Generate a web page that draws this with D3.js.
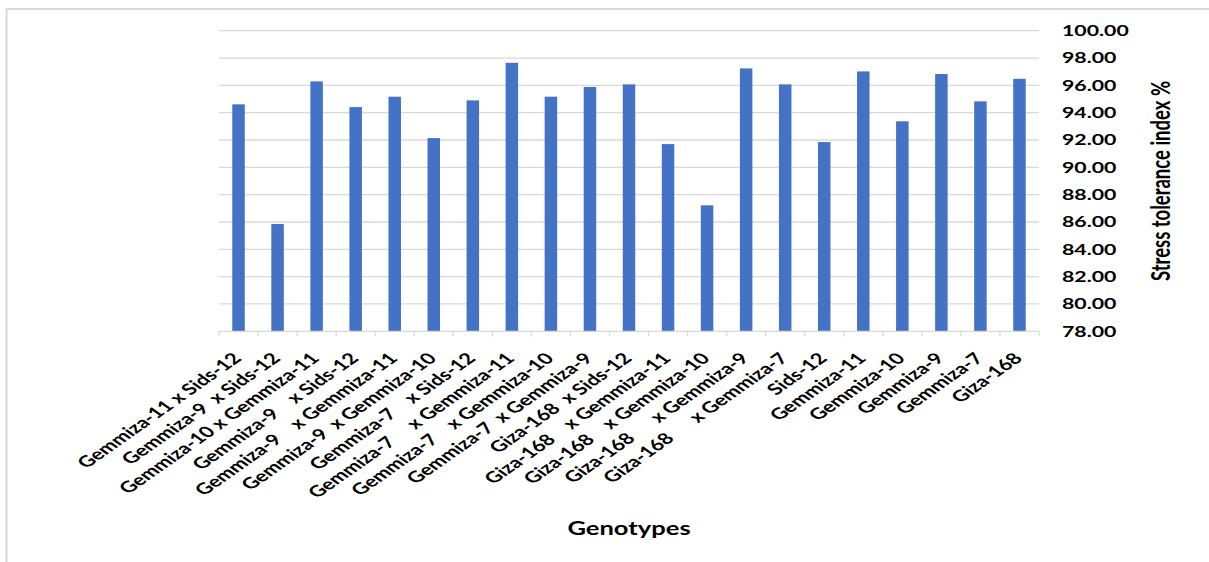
<!DOCTYPE html>
<html>
<head>
<meta charset="utf-8">
<script src="https://cdn.jsdelivr.net/npm/d3@7"></script>
<style>
  html, body { margin: 0; padding: 0; background: #fff; }
  svg { display: block; }
  text { font-family: Lato, "Open Sans", sans-serif; font-weight: 700; fill: #000; white-space: pre; }
</style>
</head>
<body>
<svg id="chart" width="1209" height="562"></svg>
<script>
const categories = [
  "Gemmiza-11 x Sids-12",
  "Gemmiza-9  x Sids-12",
  "Gemmiza-10 x Gemmiza-11",
  "Gemmiza-9    x Sids-12",
  "Gemmiza-9    x Gemmiza-11",
  "Gemmiza-9  x Gemmiza-10",
  "Gemmiza-7    x Sids-12",
  "Gemmiza-7     x Gemmiza-11",
  "Gemmiza-7    x Gemmiza-10",
  "Gemmiza-7  x Gemmiza-9",
  "Giza-168  x Sids-12",
  "Giza-168    x Gemmiza-11",
  "Giza-168    x Gemmiza-10",
  "Giza-168      x Gemmiza-9",
  "Giza-168      x Gemmiza-7",
  "Sids-12",
  "Gemmiza-11",
  "Gemmiza-10",
  "Gemmiza-9",
  "Gemmiza-7",
  "Giza-168"
];
const values = [94.61, 85.85, 96.29, 94.41, 95.17, 92.14, 94.90, 97.65, 95.17, 95.88, 96.07,
                91.70, 87.22, 97.24, 96.07, 91.85, 97.02, 93.37, 96.83, 94.83, 96.48];
const yTicks = [78, 80, 82, 84, 86, 88, 90, 92, 94, 96, 98, 100];
const yTitle = "Stress tolerance index %";
const xTitle = "Genotypes";

(function () {
const svg = d3.select("#chart");
const SX = 1.42; // horizontal stretch of the original picture

// frame
svg.append("line").attr("x1", 6.5).attr("x2", 6.5).attr("y1", 8).attr("y2", 562)
  .attr("stroke", "#d9d9d9").attr("stroke-width", 2);
svg.append("line").attr("x1", 6).attr("x2", 1209).attr("y1", 9).attr("y2", 9)
  .attr("stroke", "#d9d9d9").attr("stroke-width", 2);

const pLeft = 219, pRight = 1039, pTop = 30.7, pBottom = 331.3;

const x = d3.scaleBand().domain(d3.range(categories.length))
  .range([pLeft, pRight]).paddingInner(0.68).paddingOuter(0.34);
const y = d3.scaleLinear().domain([78, 100]).range([pBottom, pTop]);

// gridlines
svg.append("g").selectAll("line").data(yTicks.filter(t => t > 78)).join("line")
  .attr("x1", pLeft).attr("x2", pRight)
  .attr("y1", d => y(d)).attr("y2", d => y(d))
  .attr("stroke", "#d9d9d9").attr("stroke-width", 1.3);

// bars
svg.append("g").selectAll("rect").data(values).join("rect")
  .attr("x", (d, i) => x(i))
  .attr("width", x.bandwidth())
  .attr("y", d => y(d))
  .attr("height", d => y(78) - y(d))
  .attr("fill", "#4472c4");

// x axis line & ticks
svg.append("line").attr("x1", pLeft).attr("x2", pRight).attr("y1", pBottom).attr("y2", pBottom)
  .attr("stroke", "#d9d9d9").attr("stroke-width", 1.3);
const step = x.step();
svg.append("g").selectAll("line").data(d3.range(categories.length + 1)).join("line")
  .attr("x1", k => pLeft + k * step).attr("x2", k => pLeft + k * step)
  .attr("y1", pBottom).attr("y2", pBottom + 5)
  .attr("stroke", "#d9d9d9").attr("stroke-width", 1.3);

// category labels
svg.append("g").selectAll("text").data(categories).join("text")
  .attr("transform", (d, i) => `translate(${x(i) + x.bandwidth() / 2 + 4},${pBottom + 28}) scale(${SX},1) rotate(-45)`)
  .attr("text-anchor", "end")
  .style("font-size", "15.5px")
  .text(d => d);

// y tick labels (right)
svg.append("g").selectAll("text").data(yTicks).join("text")
  .attr("transform", d => `translate(1062,${y(d)}) scale(${SX},1)`)
  .attr("dy", "0.36em")
  .style("font-size", "15px")
  .text(d => d.toFixed(2));

// y title
svg.append("text")
  .attr("transform", `translate(1170,${(pTop + pBottom) / 2}) scale(${SX},1) rotate(-90)`)
  .attr("text-anchor", "middle")
  .style("font-size", "18.5px")
  .text(yTitle);

// x title
svg.append("text")
  .attr("transform", `translate(${(pLeft + pRight) / 2},535) scale(${SX},1)`)
  .attr("text-anchor", "middle")
  .style("font-size", "18px")
  .text(xTitle);
})();
</script>
</body>
</html>
